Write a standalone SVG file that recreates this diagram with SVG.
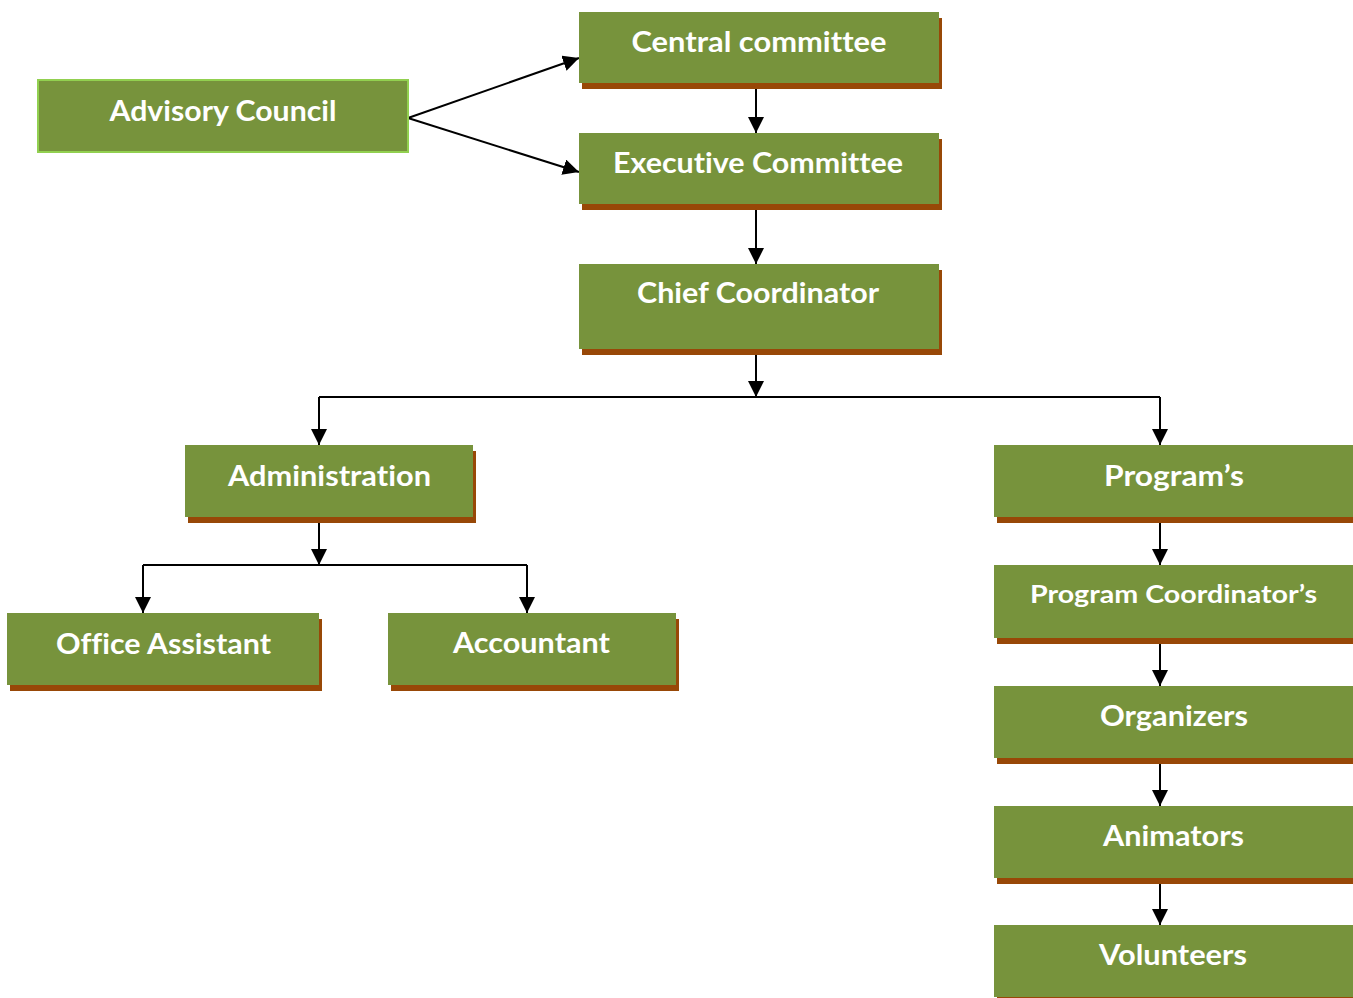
<svg xmlns="http://www.w3.org/2000/svg" width="1353" height="998" viewBox="0 0 1353 998">
<style>
.box{fill:#77933C}
.sh{fill:#984807}
.adv{fill:#77933C;stroke:#92D050;stroke-width:2}
.t{font-family:Lato,"Liberation Sans",sans-serif;font-weight:bold;font-size:28px;fill:#FFFFFF;text-anchor:middle;font-variant-ligatures:none}
.t2{font-size:24px}
.c{fill:none;stroke:#000;stroke-width:2}
.ca{fill:none;stroke:#000;stroke-width:2;marker-end:url(#ah)}
</style>
<defs>
<marker id="ah" markerUnits="userSpaceOnUse" markerWidth="16" markerHeight="16" refX="16" refY="8" orient="auto">
<path d="M0,0 L16,8 L0,16 z" fill="#000"/>
</marker>
</defs>
<rect width="1353" height="998" fill="#fff"/>
<g id="connectors">
<path class="ca" d="M408,118 L579,58"/>
<path class="ca" d="M408,118 L579,172"/>
<path class="ca" d="M756,83 L756,133"/>
<path class="ca" d="M756,204 L756,264"/>
<path class="ca" d="M756,349 L756,397"/>
<path class="c" d="M319,397 L1160,397"/>
<path class="ca" d="M319,397 L319,445"/>
<path class="ca" d="M1160,397 L1160,445"/>
<path class="ca" d="M319,517 L319,565"/>
<path class="c" d="M143,565 L527,565"/>
<path class="ca" d="M143,565 L143,613"/>
<path class="ca" d="M527,565 L527,613"/>
<path class="ca" d="M1160,517 L1160,565"/>
<path class="ca" d="M1160,638 L1160,686"/>
<path class="ca" d="M1160,758 L1160,806"/>
<path class="ca" d="M1160,878 L1160,925"/>
</g>
<g id="advisory">
<rect class="adv" x="38" y="80" width="370" height="72"/>
<text class="t" x="223" y="121" textLength="227" lengthAdjust="spacingAndGlyphs">Advisory Council</text>
</g>
<g id="central">
<rect class="sh" x="582" y="18" width="360" height="71"/>
<rect class="box" x="579" y="12" width="360" height="71"/>
<text class="t" x="759" y="52" textLength="255" lengthAdjust="spacingAndGlyphs">Central committee</text>
</g>
<g id="executive">
<rect class="sh" x="582" y="139" width="360" height="71"/>
<rect class="box" x="579" y="133" width="360" height="71"/>
<text class="t" x="758" y="173" textLength="290" lengthAdjust="spacingAndGlyphs">Executive Committee</text>
</g>
<g id="chief">
<rect class="sh" x="582" y="270" width="360" height="85"/>
<rect class="box" x="579" y="264" width="360" height="85"/>
<text class="t" x="758" y="303" textLength="242" lengthAdjust="spacingAndGlyphs">Chief Coordinator</text>
</g>
<g id="administration">
<rect class="sh" x="188" y="451" width="288" height="72"/>
<rect class="box" x="185" y="445" width="288" height="72"/>
<text class="t" x="329.5" y="486" textLength="203" lengthAdjust="spacingAndGlyphs">Administration</text>
</g>
<g id="office-assistant">
<rect class="sh" x="10" y="619" width="312" height="72"/>
<rect class="box" x="7" y="613" width="312" height="72"/>
<text class="t" x="163.5" y="654" textLength="215" lengthAdjust="spacingAndGlyphs">Office Assistant</text>
</g>
<g id="accountant">
<rect class="sh" x="391" y="619" width="288" height="72"/>
<rect class="box" x="388" y="613" width="288" height="72"/>
<text class="t" x="531.5" y="653" textLength="157" lengthAdjust="spacingAndGlyphs">Accountant</text>
</g>
<g id="programs">
<rect class="sh" x="997" y="451" width="360" height="72"/>
<rect class="box" x="994" y="445" width="360" height="72"/>
<text class="t" x="1174" y="486" textLength="140" lengthAdjust="spacingAndGlyphs">Program’s</text>
</g>
<g id="program-coordinators">
<rect class="sh" x="997" y="571" width="360" height="73"/>
<rect class="box" x="994" y="565" width="360" height="73"/>
<text class="t t2" x="1173.5" y="603" textLength="287" lengthAdjust="spacingAndGlyphs">Program Coordinator’s</text>
</g>
<g id="organizers">
<rect class="sh" x="997" y="692" width="360" height="72"/>
<rect class="box" x="994" y="686" width="360" height="72"/>
<text class="t" x="1174" y="726" textLength="148" lengthAdjust="spacingAndGlyphs">Organizers</text>
</g>
<g id="animators">
<rect class="sh" x="997" y="812" width="360" height="72"/>
<rect class="box" x="994" y="806" width="360" height="72"/>
<text class="t" x="1173.5" y="846" textLength="141" lengthAdjust="spacingAndGlyphs">Animators</text>
</g>
<g id="volunteers">
<rect class="sh" x="997" y="931" width="360" height="72"/>
<rect class="box" x="994" y="925" width="360" height="72"/>
<text class="t" x="1173" y="965" textLength="148" lengthAdjust="spacingAndGlyphs">Volunteers</text>
</g>
</svg>
